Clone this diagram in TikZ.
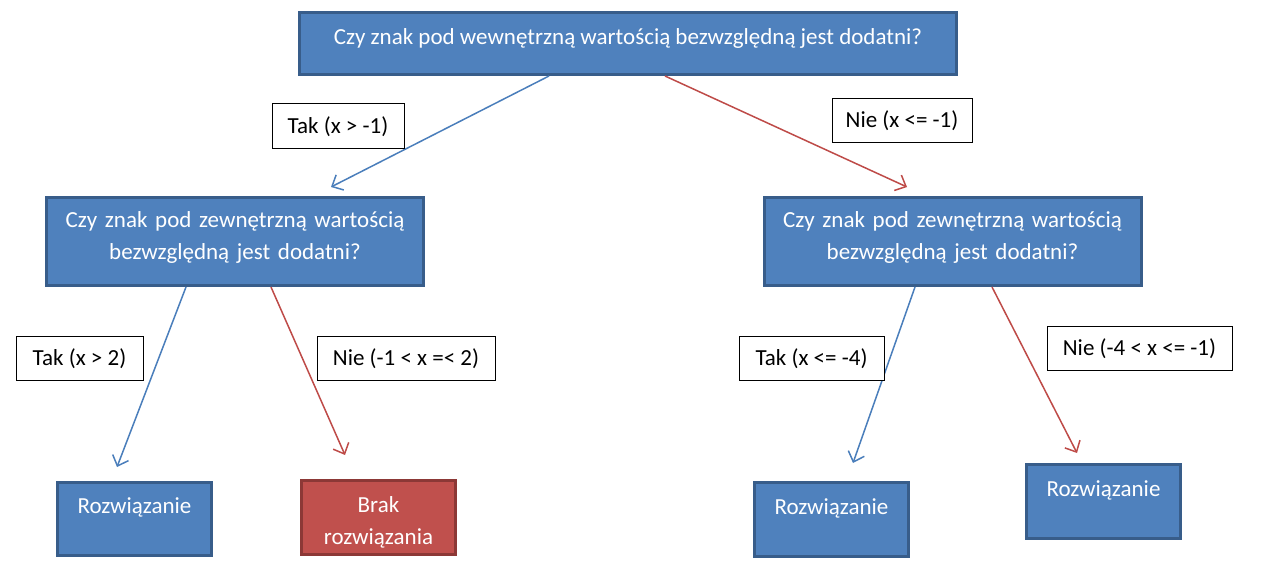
\documentclass[tikz,border=0pt]{standalone}
\usepackage{fontspec}
\setmainfont{Carlito}
\usepackage{pgf,tikz}
\usetikzlibrary{shapes, arrows.meta, positioning}
\definecolor{niebieski}{HTML}{4F81BD}
\definecolor{ramkaniebieska}{HTML}{385D8A}
\definecolor{czerwony}{HTML}{C0504D}
\definecolor{ramkaczerwona}{HTML}{8C3836}
\definecolor{liniatak}{HTML}{4A7EBB}
\definecolor{linianie}{HTML}{BE4B48}
\tikzstyle{blok} = [draw=ramkaniebieska, fill=niebieski, line width=3pt, rectangle, text=white, align=center, inner sep=0pt, font=\fontsize{23}{32}\selectfont]
\tikzstyle{brak} = [blok, draw=ramkaczerwona, fill=czerwony]
\tikzstyle{warunek} = [draw=black, fill=white, line width=1pt, rectangle, minimum height=44pt, inner sep=0pt, font=\fontsize{23}{26}\selectfont]
\tikzstyle{tak} = [draw=liniatak, line width=1.5pt, -{Straight Barb[length=9pt,width=17pt]}]
\tikzstyle{nie} = [tak, draw=linianie]

\begin{document}
\begin{tikzpicture}[x=1pt, y=-1pt]
	\useasboundingbox (0,0) rectangle (1278,569);
	\node[blok, minimum width=657pt, minimum height=62pt, text height=32pt, text depth=30pt] (pytanie) at (628,43.5) {Czy znak pod wewnętrzną wartością bezwzględną jest dodatni?};
	\node[blok, minimum width=377pt, minimum height=88pt, text width=370pt, text height=30pt, text depth=58pt] (lewe) at (235,241.5) {Czy znak pod zewnętrzną wartością\\ bezwzględną jest dodatni?};
	\node[blok, minimum width=377pt, minimum height=88pt, text width=370pt, text height=30pt, text depth=58pt] (prawe) at (952.5,241.5) {Czy znak pod zewnętrzną wartością\\ bezwzględną jest dodatni?};
	\node[blok, minimum width=154pt, minimum height=73pt, text width=150pt, text height=31pt, text depth=42pt] (rozwA) at (134.5,519) {Rozwiązanie};
	\node[brak, minimum width=154pt, minimum height=74pt, text width=150pt, text height=32pt, text depth=42pt] (brakrozw) at (378.5,517.5) {Brak\\ rozwiązania};
	\node[blok, minimum width=154pt, minimum height=74pt, text width=150pt, text height=31.5pt, text depth=42.5pt] (rozwB) at (831.5,519.5) {Rozwiązanie};
	\node[blok, minimum width=154pt, minimum height=74pt, text width=150pt, text height=32pt, text depth=42pt] (rozwC) at (1103.5,501.5) {Rozwiązanie};

	\coordinate (grotA) at (331,187);
	\coordinate (grotB) at (907,187);
	\coordinate (grotC) at (117,467);
	\coordinate (grotD) at (345,455);
	\coordinate (grotE) at (853,463);
	\coordinate (grotF) at (1077,453);
	\draw[tak] ([xshift=-79pt]pytanie.south) -- (grotA);
	\draw[nie] ([xshift=37pt]pytanie.south) -- (grotB);
	\draw[tak] ([xshift=-49pt]lewe.south) -- (grotC);
	\draw[nie] ([xshift=36pt]lewe.south) -- (grotD);
	\draw[tak] ([xshift=-37.5pt]prawe.south) -- (grotE);
	\draw[nie] ([xshift=39.5pt]prawe.south) -- (grotF);

	\node[warunek, minimum width=132pt, minimum height=45pt] (takA) at (338,126.5) {Tak (x > -1)};
	\node[warunek, minimum width=140pt] (nieA) at (902,121) {Nie (x <= -1)};
	\node[warunek, minimum width=127pt] (takB) at (79.5,359) {Tak (x > 2)};
	\node[warunek, minimum width=178pt] (nieB) at (406,359) {Nie (-1 < x =< 2)};
	\node[warunek, minimum width=145pt] (takC) at (811.5,359) {Tak (x <= -4)};
	\node[warunek, minimum width=185pt] (nieC) at (1139.5,349) {Nie (-4 < x <= -1)};
\end{tikzpicture}
\end{document}
